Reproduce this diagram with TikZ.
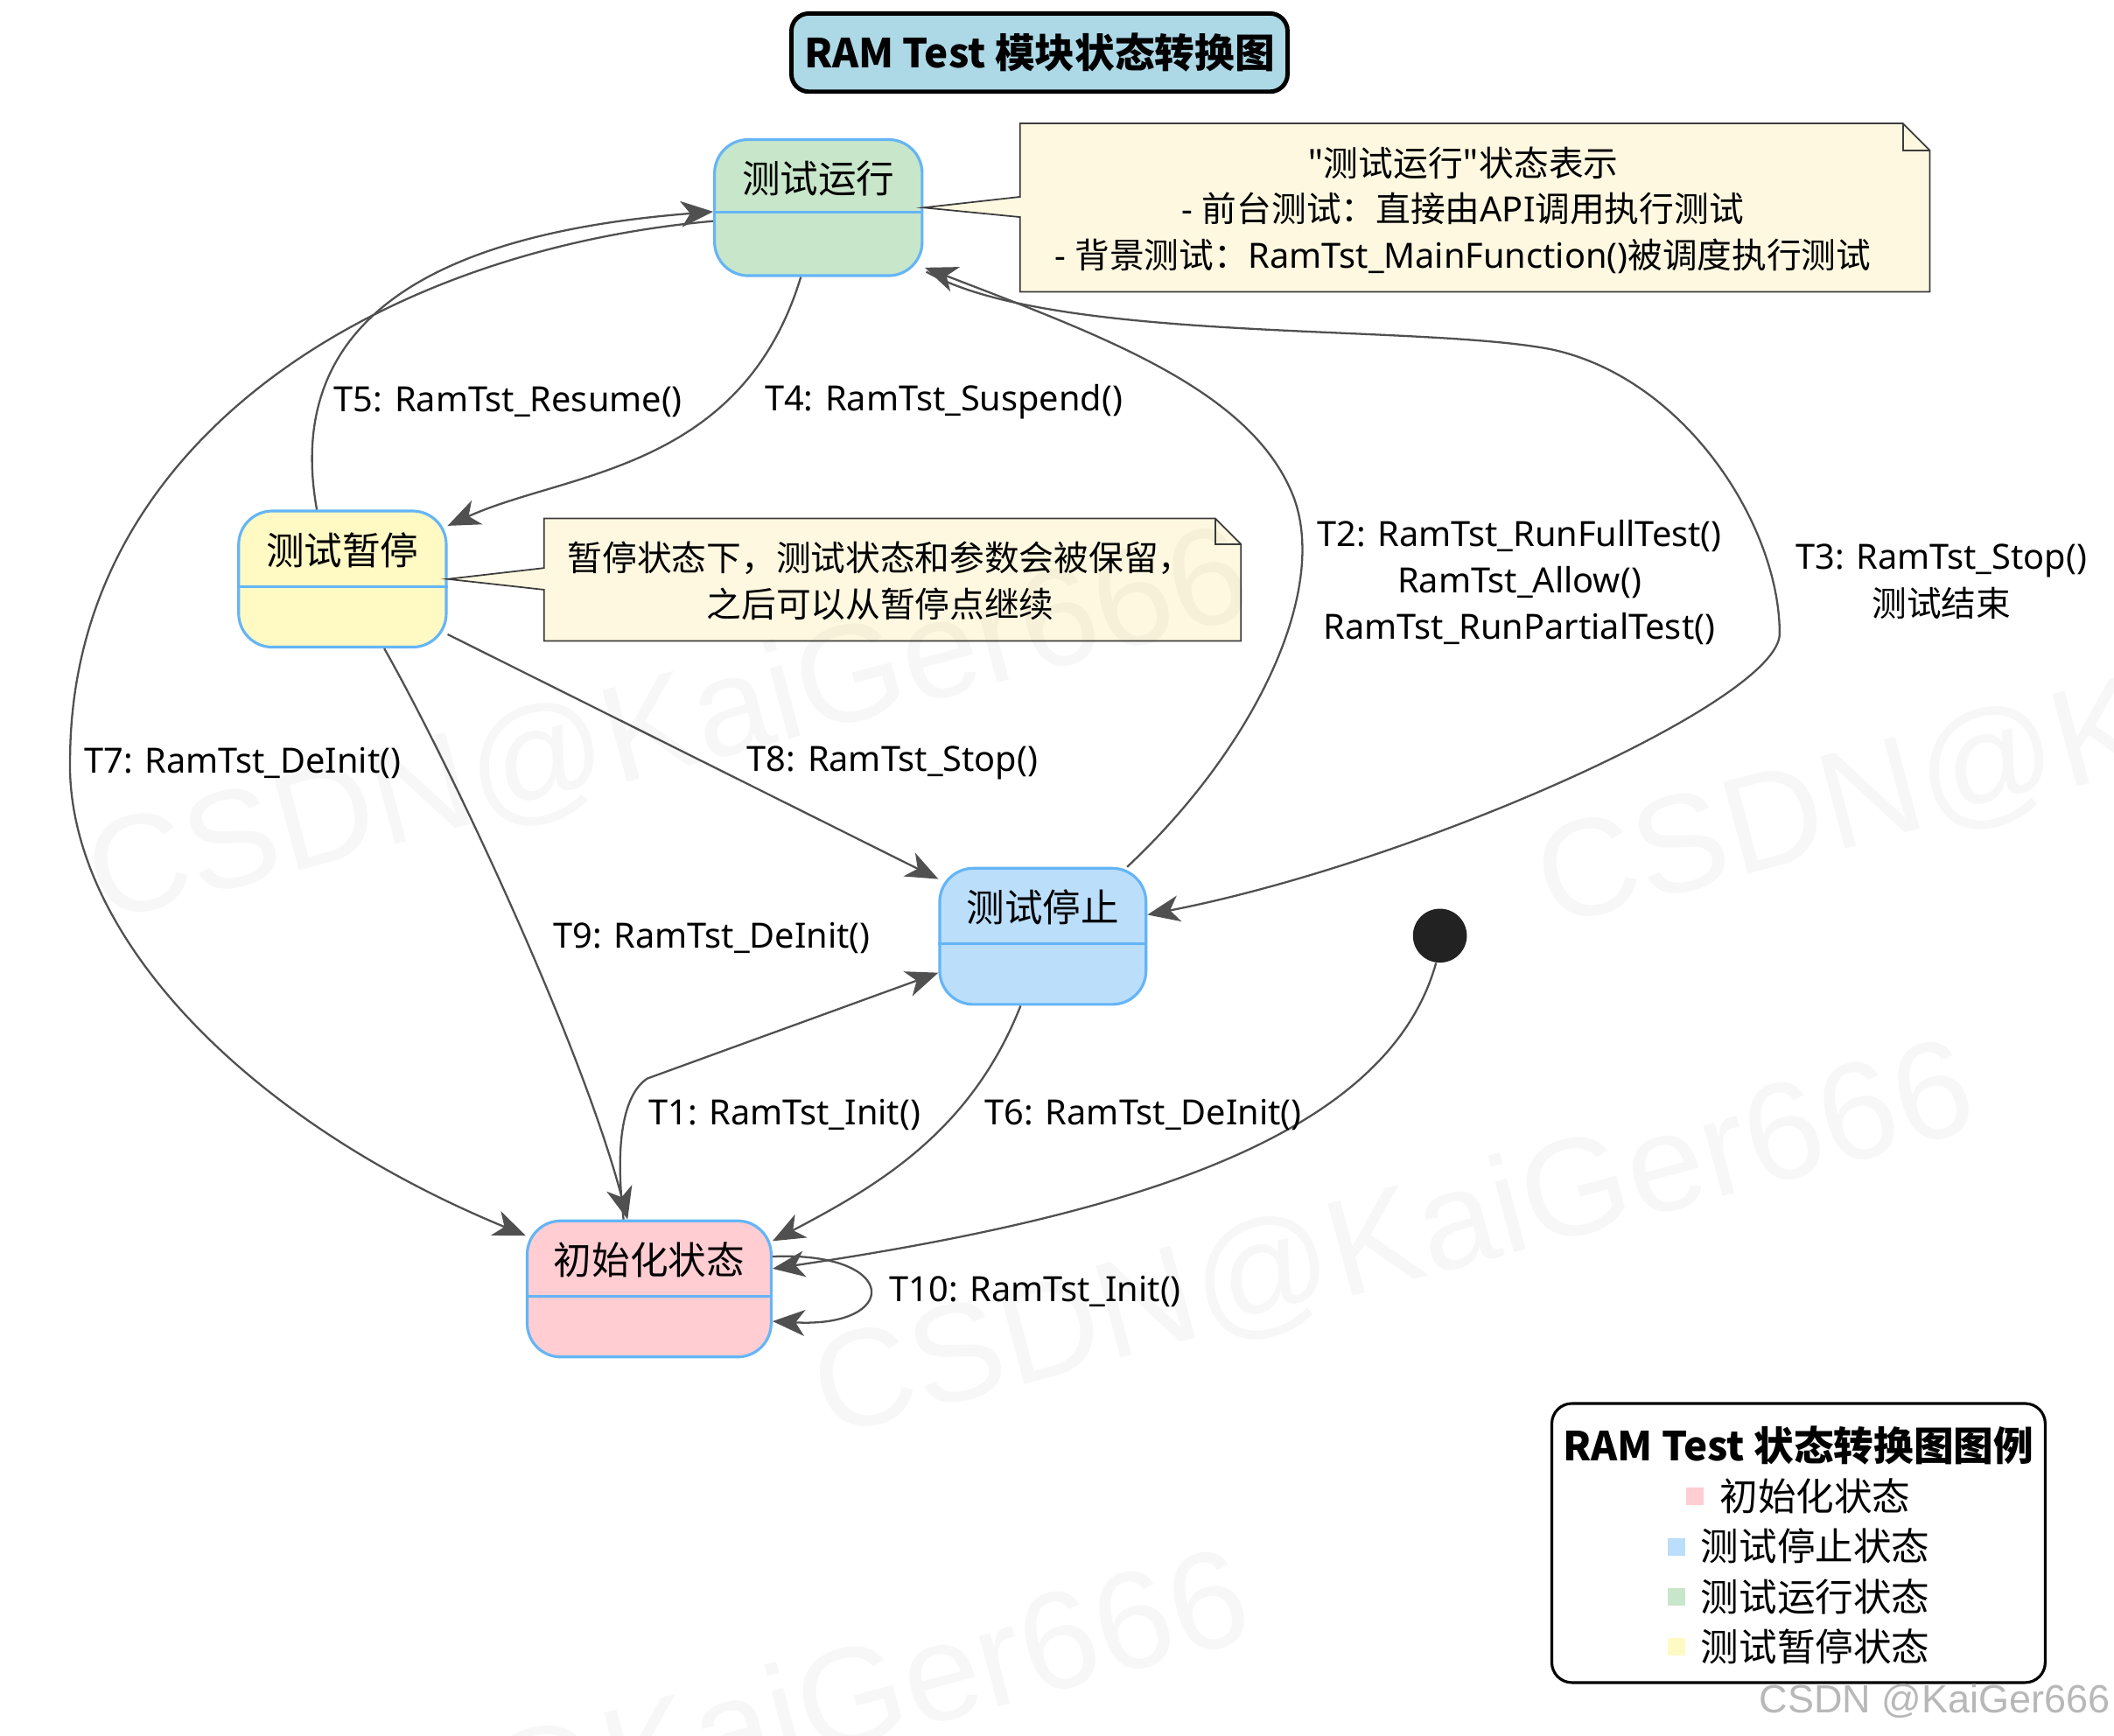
\documentclass[tikz,border=0pt]{standalone}
\usepackage{fontspec}
\setmainfont{Noto Sans}
\newfontfamily\zh{Noto Sans CJK SC}
\newfontfamily\wmfont{Liberation Sans}
\usetikzlibrary{arrows.meta,calc}
\definecolor{rtborder}{RGB}{100,181,246}
\definecolor{rtinit}{RGB}{255,205,210}
\definecolor{rtstop}{RGB}{187,222,251}
\definecolor{rtrun}{RGB}{200,230,201}
\definecolor{rtpause}{RGB}{255,249,196}
\definecolor{rtnote}{RGB}{254,248,225}
\definecolor{rtnoteline}{RGB}{60,60,60}
\definecolor{rtedge}{RGB}{80,80,80}
\definecolor{rttitle}{RGB}{173,216,230}
\definecolor{rtdot}{RGB}{34,34,34}
\newcommand{\legsq}[1]{\raisebox{1.8pt}{\textcolor{#1}{\rule{5.7pt}{5.7pt}}}}
\tikzset{
  snode/.style={draw=rtborder, line width=0.9pt, fill=#1, rounded corners=0.385cm,
                font=\zh\fontsize{12.4}{15}\selectfont, inner sep=0pt,
                minimum width=2.373cm, minimum height=1.556cm,
                text height=0.613cm, text depth=0.943cm},
  nbox/.style={inner sep=0pt},
  notepath/.style={draw=rtnoteline, line width=0.5pt, fill=rtnote},
  ntext/.style={font=\fontsize{11.3}{15}\selectfont, align=center, inner sep=0pt},
  trans/.style={draw=rtedge, line width=0.65pt,
                -{Stealth[length=10.5pt, width=8.5pt, inset=3pt]}},
  tlabel/.style={font=\fontsize{11.3}{15.2}\selectfont, align=center, inner sep=1pt},
  titlebox/.style={draw=black, line width=1.4pt, fill=rttitle, rounded corners=0.2cm,
                   font=\zh\bfseries\fontsize{13}{16}\selectfont,
                   minimum width=5.671cm, minimum height=0.894cm},
  legbox/.style={draw=black, line width=0.9pt, rounded corners=0.23cm,
                 minimum width=5.640cm, minimum height=3.190cm},
  wmark/.style={font=\wmfont\fontsize{45}{45}\selectfont, text=black,
                text opacity=0.03, rotate=15},
}
\begin{document}
\begin{tikzpicture}[x=0.01541cm, y=-0.01541cm]
\path[use as bounding box, fill=white] (0,0) rectangle (1568,1287);

% Title
\node[titlebox] (title) at (771,39) {RAM Test 模块状态转换图};

% States
\node[snode=rtrun] (run) at (607,154) {测试运行};
\node[snode=rtpause] (pause) at (254,429.5) {测试暂停};
\node[snode=rtstop, minimum width=2.358cm] (stop) at (773.5,694.5) {测试停止};
\node[snode=rtinit, minimum width=2.789cm] (init) at (481.5,956) {初始化状态};
\foreach \s/\d in {run/0.848cm, pause/0.878cm, stop/0.878cm, init/0.878cm}
  \draw[rtborder, line width=0.9pt] ([yshift=-\d]\s.north west) -- ([yshift=-\d]\s.north east);
\node[circle, fill=rtdot, minimum size=0.616cm, inner sep=0pt] (start) at (1068,694) {};

% Note 1
\node[nbox, minimum width=10.386cm, minimum height=1.911cm] (noterun) at (1094,154) {};
\draw[notepath] (noterun.north west) -- ([xshift=-0.308cm]noterun.north east)
  -- ([yshift=-0.308cm]noterun.north east) -- (noterun.south east) -- (noterun.south west)
  -- ($(noterun.west)+(0,7)$) -- (run.east) -- ($(noterun.west)+(0,-8)$) -- cycle;
\draw[rtnoteline, line width=0.5pt] ([xshift=-0.308cm]noterun.north east)
  -- ([xshift=-0.308cm, yshift=-0.308cm]noterun.north east) -- ([yshift=-0.308cm]noterun.north east);
\node[ntext] (noteruntxt) at (1085,156)
  {{\zh "测试运行"状态表示}\\
   - {\zh 前台测试：直接由}API{\zh 调用执行测试}\\
   - {\zh 背景测试：}RamTst\_MainFunction(){\zh 被调度执行测试}};

% Note 2
\node[nbox, minimum width=7.951cm, minimum height=1.387cm] (notepause) at (662,430) {};
\draw[notepath] (notepause.north west) -- ([xshift=-0.293cm]notepause.north east)
  -- ([yshift=-0.293cm]notepause.north east) -- (notepause.south east) -- (notepause.south west)
  -- ($(notepause.west)+(0,7.4)$) -- (pause.east) -- ($(notepause.west)+(0,-8.7)$) -- cycle;
\draw[rtnoteline, line width=0.5pt] ([xshift=-0.293cm]notepause.north east)
  -- ([xshift=-0.293cm, yshift=-0.293cm]notepause.north east) -- ([yshift=-0.293cm]notepause.north east);
\node[ntext, font=\zh\fontsize{11.3}{15}\selectfont] (notepausetxt) at (653,431)
  {暂停状态下，测试状态和参数会被保留，\\之后可以从暂停点继续};

% Transitions
\draw[trans] ($(pause.north)+(-19,0)$) .. controls (212,250) and (300,175) .. ($(run.west)+(0,3)$);
\draw[trans] ($(run.west)+(0,10)$) .. controls (290,185) and (55,320) .. (52,560)
  .. controls (47,690) and (180,830) .. ($(init.north west)+(0,12)$);
\draw[trans] ($(run.south)+(-13,0)$) .. controls (550,350) and (420,350) .. ($(pause.north east)+(0,12)$);
\draw[trans] ($(stop.north east)+(-15,0)$) .. controls (930,555) and (985,440) .. (960,370)
  .. controls (930,290) and (820,250) .. ($(run.south east)+(1,-7)$);
\draw[trans] ($(run.south east)+(2,-4)$) .. controls (780,255) and (1050,240) .. (1150,259)
  .. controls (1250,280) and (1320,390) .. (1320,470)
  .. controls (1320,520) and (1050,640) .. ($(stop.east)+(0,-16)$);
\draw[trans] ($(pause.east)+(0,41)$) -- ($(stop.north west)+(0,9)$);
\draw[trans] ($(pause.south)+(31,0)$) .. controls (330,560) and (430,770) .. ($(init.north)+(-16,0)$);
\draw[trans] ($(init.north)+(-19,0)$) .. controls (455,840) and (465,810) .. (480,800)
  -- ($(stop.west)+(0,27)$);
\draw[trans] ($(stop.south)+(-16.5,0)$) .. controls (720,840) and (650,880) .. ($(init.north east)+(0,16)$);
\draw[trans] (start.262) .. controls (1030,840) and (850,900) .. ($(init.east)+(0,-15)$);
\draw[trans] ($(init.east)+(0,-24)$) .. controls (668,928) and (668,985) .. ($(init.east)+(0,24)$);

% Labels
\node[tlabel] (t5) at (377,298) {T5: RamTst\_Resume()};
\node[tlabel] (t4) at (700,298) {T4: RamTst\_Suspend()};
\node[tlabel] (t2) at (1127,432) {T2: RamTst\_RunFullTest()\\RamTst\_Allow()\\RamTst\_RunPartialTest()};
\node[tlabel] (t3) at (1440,431.5) {T3: RamTst\_Stop()\\{\zh 测试结束}};
\node[tlabel] (t7) at (180,566) {T7: RamTst\_DeInit()};
\node[tlabel] (t8) at (662,566) {T8: RamTst\_Stop()};
\node[tlabel] (t9) at (528,696) {T9: RamTst\_DeInit()};
\node[tlabel] (t1) at (582,827) {T1: RamTst\_Init()};
\node[tlabel] (t6) at (848,827) {T6: RamTst\_DeInit()};
\node[tlabel] (t10) at (768,958) {T10: RamTst\_Init()};

% Legend
\node[legbox] (legend) at (1334,1144.5) {};
\node[font=\fontsize{12.4}{16.3}\selectfont, align=center, inner sep=0pt] (legendtxt) at (1334,1146)
  {{\zh\bfseries\fontsize{13}{16.3}\selectfont RAM Test 状态转换图图例}\\
   \legsq{rtinit}\hspace{5.2pt}{\zh 初始化状态}\\
   \legsq{rtstop}\hspace{5.2pt}{\zh 测试停止状态}\\
   \legsq{rtrun}\hspace{5.2pt}{\zh 测试运行状态}\\
   \legsq{rtpause}\hspace{5.2pt}{\zh 测试暂停状态}};

% Watermarks
\node[wmark] (wm1) at (496,541) {CSDN@KaiGer666};
\node[wmark] (wm2) at (1034,922) {CSDN@KaiGer666};
\node[wmark] (wm3) at (1571,544) {CSDN@KaiGer666};
\node[wmark] (wm4) at (497,1300) {CSDN@KaiGer666};
\node[font=\wmfont\fontsize{12.8}{14}\selectfont, text=black!28, inner sep=0pt] (wmcorner) at (1435,1262) {CSDN @KaiGer666};

\end{tikzpicture}
\end{document}
